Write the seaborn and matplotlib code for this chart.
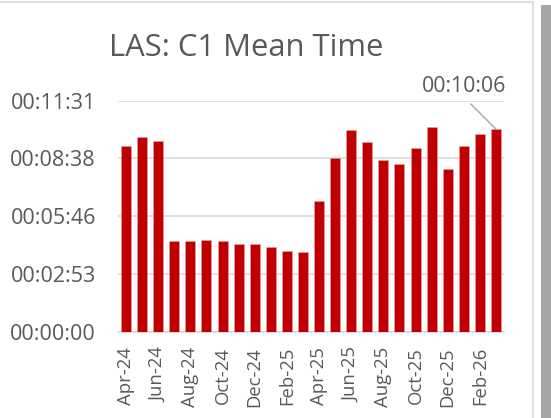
import matplotlib
matplotlib.use("Agg")
import matplotlib.pyplot as plt
from matplotlib.patches import Rectangle
from matplotlib.ticker import FuncFormatter
import seaborn as sns
import numpy as np
import pandas as pd

# ---- data ----
months = ["Apr-24", "May-24", "Jun-24", "Jul-24", "Aug-24", "Sep-24", "Oct-24", "Nov-24",
          "Dec-24", "Jan-25", "Feb-25", "Mar-25", "Apr-25", "May-25", "Jun-25", "Jul-25",
          "Aug-25", "Sep-25", "Oct-25", "Nov-25", "Dec-25", "Jan-26", "Feb-26", "Mar-26"]
mean_seconds = [556, 582, 571, 271, 270, 273, 270, 262, 262, 254, 241, 238,
                392, 521, 604, 569, 514, 501, 550, 613, 488, 556, 592, 606]
title = "LAS: C1 Mean Time"
y_max_days = 0.008
y_step_days = 0.002

def fmt_hms(s):
    s = int(round(s))
    return f"{s // 3600:02d}:{(s % 3600) // 60:02d}:{s % 60:02d}"

df = pd.DataFrame({"Month": months, "Seconds": mean_seconds})

sns.set_theme(style="white")
plt.rcParams["font.family"] = ["Open Sans", "DejaVu Sans"]
txt = "#595959"
grid = "#d9d9d9"

fig = plt.figure(figsize=(5.51, 4.18), dpi=100)
fig.patch.set_facecolor("white")
ax = fig.add_axes([118 / 551, 1 - 331.7 / 418, 386 / 551, 231 / 418])

sns.barplot(data=df, x="Month", y="Seconds", color="#c00000", width=0.62,
            saturation=1, edgecolor="#e8a0a0", linewidth=0.4, ax=ax, zorder=3)

ymax = y_max_days * 86400
ystep = y_step_days * 86400
ax.set_ylim(0, ymax)
ax.set_xlim(-0.5, len(months) - 0.5)
ax.set_yticks(np.arange(0, ymax + 1, ystep))
ax.yaxis.set_major_formatter(FuncFormatter(lambda v, p: fmt_hms(v)))
ax.yaxis.grid(True, color=grid, linewidth=1.2, zorder=0)
ax.set_axisbelow(True)
ax.tick_params(axis="y", length=0, pad=16, labelsize=15.5, labelcolor=txt)

# x ticks: boundary marks every 2 categories, labels every other month
ax.set_xticks(np.arange(-0.5, len(months), 2))
ax.set_xticklabels([])
ax.set_xticks(np.arange(0, len(months), 2), minor=True)
ax.set_xticklabels(months[::2], minor=True, rotation=90)
ax.tick_params(axis="x", which="major", length=5, width=1, color=grid)
ax.tick_params(axis="x", which="minor", length=0, pad=11, labelsize=13.3, labelcolor=txt)

for sp in ["top", "right", "left"]:
    ax.spines[sp].set_visible(False)
ax.spines["bottom"].set_color(grid)
ax.spines["bottom"].set_linewidth(1.2)
ax.set_xlabel("")
ax.set_ylabel("")

# data label on last bar
last = len(months) - 1
ax.annotate(fmt_hms(mean_seconds[last]), xy=(last, mean_seconds[last]),
            xytext=(-23, 23), textcoords="offset points", ha="center", va="bottom",
            fontsize=15.3, color=txt,
            arrowprops=dict(arrowstyle="-", color="#a6a6a6", lw=1,
                            relpos=(0.5, 0), shrinkA=3.5, shrinkB=0))

fig.text(246.5 / 551, 1 - 56 / 418, title, ha="center", va="baseline",
         fontsize=22.3, color=txt)

# chart frame and side strip
fig.patches.append(Rectangle((-0.01, -0.01), 533 / 551 + 0.01, 1 - 2 / 418 + 0.01,
                             transform=fig.transFigure, fill=False,
                             edgecolor=grid, linewidth=1.2))
fig.patches.append(Rectangle((541 / 551, -0.01), 0.05, 1 - 5 / 418 + 0.01,
                             transform=fig.transFigure, facecolor="#a6a6a6",
                             edgecolor="none"))

fig.savefig("out.png", dpi=100)
